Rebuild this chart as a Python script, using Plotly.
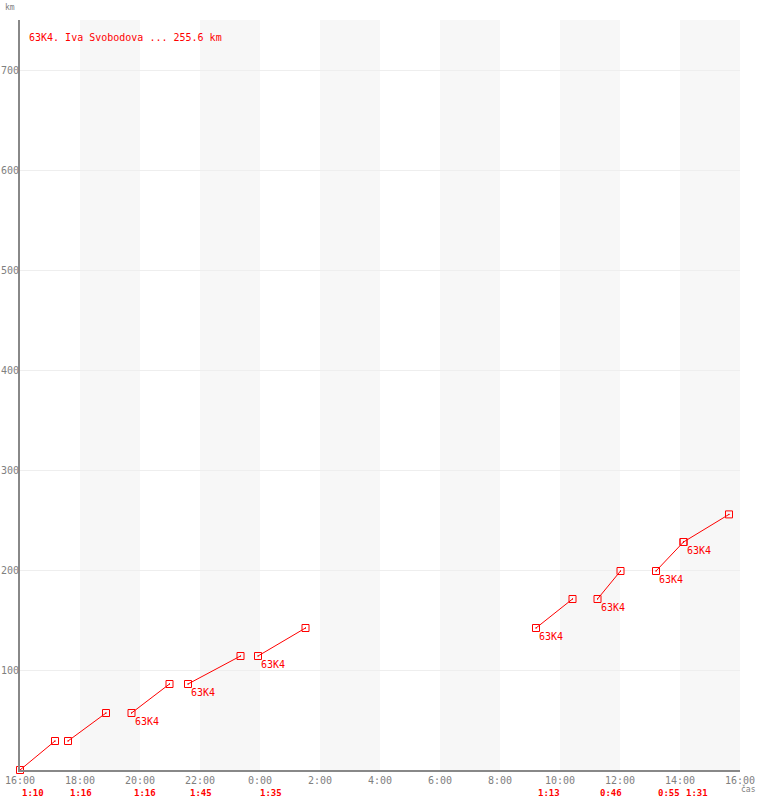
import plotly.graph_objects as go
import pandas as pd

# ---- data ----
start_times = ["16:00", "17:36", "19:43", "21:36", "23:56", "09:12", "11:15", "13:12", "14:07"]
end_times   = ["17:10", "18:52", "20:59", "23:21", "01:31", "10:25", "12:01", "14:07", "15:38"]
start_km    = [0, 29, 57, 86, 114, 142, 171, 199, 228]
end_km      = [29, 57, 86, 114, 142, 171, 199, 228, 255.6]
durations   = ["1:10", "1:16", "1:16", "1:45", "1:35", "1:13", "0:46", "0:55", "1:31"]
point_labels = ["", "", "63K4", "63K4", "63K4", "63K4", "63K4", "63K4", "63K4"]
y_ticks = [100, 200, 300, 400, 500, 600, 700]
x_tick_labels = ["16:00", "18:00", "20:00", "22:00", "0:00", "2:00", "4:00", "6:00",
                 "8:00", "10:00", "12:00", "14:00", "16:00"]
title_text = "63K4. Iva Svobodova ... 255.6 km"

DAY1 = "2024-01-01"
DAY2 = "2024-01-02"


def to_dt(t):
    h = int(t.split(":")[0])
    day = DAY1 if h >= 16 else DAY2
    return pd.Timestamp(f"{day} {t}")


x_start = pd.Timestamp(f"{DAY1} 16:00")
x_end = pd.Timestamp(f"{DAY2} 16:00")
tick_vals = [x_start + pd.Timedelta(hours=2 * i) for i in range(len(x_tick_labels))]

RED = "#ff0000"
GRAY = "#808080"
MONO = "DejaVu Sans Mono, monospace"

fig = go.Figure()

# alternating shaded bands (every other 2-hour block)
for i in range(1, 12, 2):
    fig.add_shape(type="rect", xref="x", yref="paper",
                  x0=tick_vals[i], x1=tick_vals[i + 1], y0=0, y1=1,
                  fillcolor="#f7f7f7", line_width=0, layer="below")

for s, e, ys, ye, lab in zip(start_times, end_times, start_km, end_km, point_labels):
    xs = to_dt(s)
    xe = to_dt(e)
    fig.add_trace(go.Scatter(
        x=[xs, xe], y=[ys, ye], mode="lines+markers",
        line=dict(color=RED, width=1),
        marker=dict(symbol="square-open-dot", size=7, color=RED, line=dict(width=1, color=RED)),
        showlegend=False, hoverinfo="skip", cliponaxis=False))
    if lab:
        fig.add_annotation(x=xs, y=ys, text=lab, showarrow=False,
                           xanchor="left", yanchor="top", xshift=1, yshift=-1,
                           font=dict(family=MONO, size=10, color=RED))

for s, d in zip(start_times, durations):
    fig.add_annotation(x=to_dt(s), y=0, yref="paper", text=f"<b>{d}</b>", showarrow=False,
                       xanchor="left", yanchor="top", xshift=0, yshift=-16,
                       font=dict(family=MONO, size=9, color=RED))

fig.add_annotation(x=0, y=1, xref="paper", yref="paper", text=title_text, showarrow=False,
                   xanchor="left", yanchor="top", xshift=7, yshift=-10,
                   font=dict(family=MONO, size=10, color=RED))
fig.add_annotation(x=0, y=1, xref="paper", yref="paper", text="km", showarrow=False,
                   xanchor="right", yanchor="bottom", xshift=-3, yshift=6,
                   font=dict(family=MONO, size=8, color=GRAY))
fig.add_annotation(x=1, y=0, xref="paper", yref="paper", text="čas", showarrow=False,
                   xanchor="left", yanchor="top", xshift=-1, yshift=-12,
                   font=dict(family=MONO, size=8, color=GRAY))

fig.update_layout(
    width=760, height=800,
    margin=dict(l=20, r=20, t=20, b=30, autoexpand=False),
    plot_bgcolor="white", paper_bgcolor="white",
    xaxis=dict(range=[x_start, x_end], tickvals=tick_vals, ticktext=x_tick_labels,
               showgrid=False, showline=True, linecolor="#888888", linewidth=2,
               zeroline=False, ticks="", automargin=False,
               tickfont=dict(family=MONO, size=10, color=GRAY)),
    yaxis=dict(range=[0, 750], tickvals=y_ticks, showgrid=True, gridcolor="#eeeeee",
               gridwidth=1, showline=True, linecolor="#888888", linewidth=2,
               zeroline=False, ticks="", ticklabelstandoff=-3, automargin=False,
               tickfont=dict(family=MONO, size=10, color=GRAY)),
)

fig.write_html("out.html", config={"displayModeBar": False},
               post_script="document.body.style.margin='0';document.body.style.padding='0';")
